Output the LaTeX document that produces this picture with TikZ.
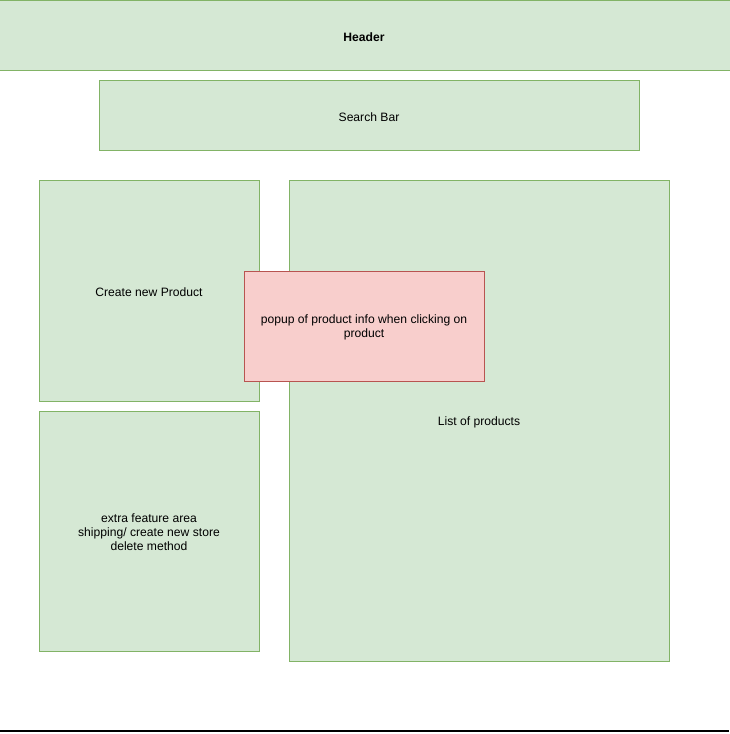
\documentclass[tikz,border=0pt]{standalone}
\usepackage{fontspec}
\setmainfont{Liberation Sans}
\definecolor{panelfill}{HTML}{D5E8D4}
\definecolor{panelline}{HTML}{82B366}
\definecolor{popfill}{HTML}{F8CECC}
\definecolor{popline}{HTML}{B85450}
\begin{document}
\begin{tikzpicture}[x=0.75pt,y=-0.75pt,
  panel/.style={draw=panelline,fill=panelfill,line width=0.75pt},
  popbox/.style={draw=popline,fill=popfill,line width=0.75pt},
  lbl/.style={font=\fontsize{9.1}{10.6}\selectfont,align=center,inner sep=0pt}]
\useasboundingbox (0,0) rectangle (729,734);
\fill[white] (0,0) rectangle (729,734);
% header strip runs past both page edges
\draw[panel] (-5,1) rectangle (734,71);
\node[lbl,font=\fontsize{9.1}{10.6}\selectfont\bfseries] (header) at (364,37) {Header};
% search bar
\draw[panel] (99,81) rectangle (639,151);
\node[lbl] (search) at (369,117) {Search Bar};
% left column
\draw[panel] (39,181) rectangle (259,401);
\node[lbl] (create) at (149,292) {Create new Product};
\draw[panel] (39,411) rectangle (259,651);
\node[lbl] (extra) at (149,532) {extra feature area\\shipping/ create new store\\delete method};
% product list
\draw[panel] (289,181) rectangle (669,661);
\node[lbl] (list) at (479,422) {List of products};
% popup overlay
\draw[popbox] (244,271) rectangle (484,381);
\node[lbl] (popup) at (364,327) {popup of product info when clicking on\\product};
% bottom rule
\draw[black,line width=1pt] (0,731) -- (729,731);
\end{tikzpicture}
\end{document}
